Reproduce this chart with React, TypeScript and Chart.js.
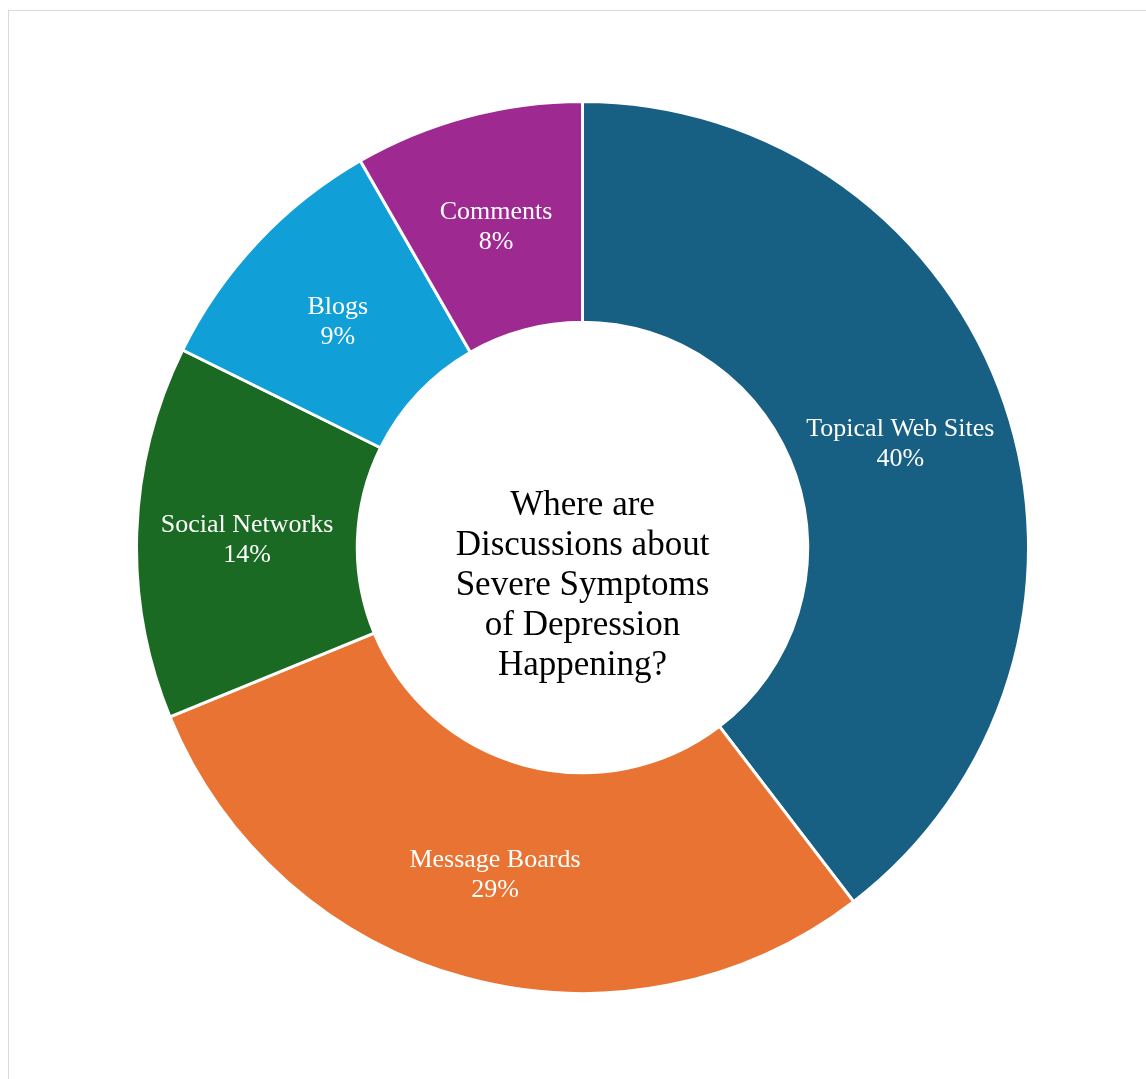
import React, { useEffect, useRef } from "react";
import { Chart, registerables } from "chart.js";

Chart.register(...registerables);

const categories = ["Topical Web Sites", "Message Boards", "Social Networks", "Blogs", "Comments"];
const shares = [39.6, 29.2, 13.5, 9.4, 8.3];
const percentLabels = ["40%", "29%", "14%", "9%", "8%"];
const colors = ["#175F83", "#E97332", "#1B6A24", "#119FD8", "#9E2A91"];
const centerLines = ["Where are", "Discussions about", "Severe Symptoms", "of Depression", "Happening?"];

const FONT = '"Liberation Serif", "Times New Roman", serif';

const labelPlugin = {
  id: "sliceLabels",
  afterDatasetsDraw(chart: any) {
    const ctx = chart.ctx;
    const meta = chart.getDatasetMeta(0);
    ctx.save();
    ctx.fillStyle = "#FFFFFF";
    ctx.font = `26px ${FONT}`;
    ctx.textAlign = "center";
    ctx.textBaseline = "middle";
    meta.data.forEach((arc: any, i: number) => {
      const p = arc.tooltipPosition();
      ctx.fillText(categories[i], p.x, p.y - 11);
      ctx.fillText(percentLabels[i], p.x, p.y + 19);
    });
    const first = meta.data[0];
    const cx = first.x;
    const cy = first.y;
    ctx.fillStyle = "#000000";
    ctx.font = `35px ${FONT}`;
    const lh = 40;
    const startY = cy + 38 - (lh * (centerLines.length - 1)) / 2;
    centerLines.forEach((line, i) => {
      ctx.fillText(line, cx, startY + i * lh);
    });
    ctx.restore();
  },
};

export default function App() {
  const ref = useRef<HTMLCanvasElement | null>(null);
  useEffect(() => {
    if (!ref.current) return;
    const chart = new Chart(ref.current, {
      type: "doughnut",
      data: {
        labels: categories,
        datasets: [
          {
            data: shares,
            backgroundColor: colors,
            borderColor: "#FFFFFF",
            borderWidth: 3,
          },
        ],
      },
      options: {
        animation: false,
        responsive: false,
        maintainAspectRatio: false,
        cutout: "50.5%",
        layout: { padding: 0 },
        plugins: {
          legend: { display: false },
          tooltip: { enabled: false },
          title: { display: false },
        },
      },
      plugins: [labelPlugin],
    });
    return () => chart.destroy();
  }, []);
  return (
    <div
      style={{
        position: "fixed",
        left: 8,
        top: 10,
        right: 0,
        bottom: 0,
        borderLeft: "1px solid #D9D9D9",
        borderTop: "1px solid #D9D9D9",
        background: "#FFFFFF",
      }}
    >
      <canvas
        ref={ref}
        width={895}
        height={895}
        style={{ position: "absolute", left: 126, top: 89, width: 895, height: 895 }}
      />
    </div>
  );
}
